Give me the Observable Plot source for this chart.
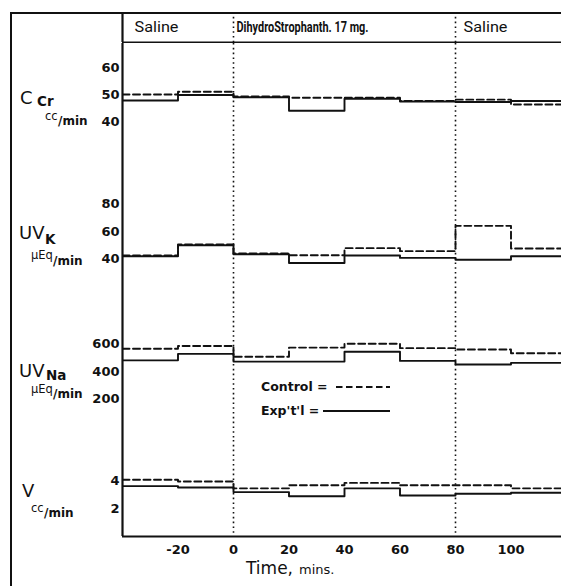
<!DOCTYPE html>
<html><head><meta charset="utf-8">
<script src="https://cdn.jsdelivr.net/npm/d3@7"></script>
<script src="https://cdn.jsdelivr.net/npm/@observablehq/plot@0.6"></script>
<style>
body{margin:0;background:#fff;}
#chart{position:relative;width:561px;height:586px;overflow:hidden;background:#fff;font-family:"DejaVu Sans",sans-serif;color:#111}
#chart svg.p{position:absolute;left:0;}
.frame{position:absolute;left:10px;top:12px;width:600px;height:620px;border-left:2.5px solid #111;border-top:2px solid #111;}
.t{position:absolute;white-space:nowrap;line-height:1;color:#111}
</style></head>
<body><div id="chart"><div class="frame"></div>
<div class="t" style="left:20px;top:89px;font-size:18px">C</div>
<div class="t" style="left:37px;top:95px;font-size:13.5px;font-weight:bold">Cr</div>
<div class="t" style="left:45px;top:111px;font-size:11.5px">cc</div>
<div class="t" style="left:58px;top:115px;font-size:12px;font-weight:bold">/min</div>

<div class="t" style="left:19px;top:224px;font-size:18px">UV</div>
<div class="t" style="left:45px;top:233px;font-size:13.5px;font-weight:bold">K</div>
<div class="t" style="left:31px;top:250px;font-size:11.5px">μEq</div>
<div class="t" style="left:53px;top:255px;font-size:12px;font-weight:bold">/min</div>

<div class="t" style="left:19px;top:362px;font-size:18px">UV</div>
<div class="t" style="left:46px;top:369px;font-size:13.5px;font-weight:bold">Na</div>
<div class="t" style="left:31px;top:384px;font-size:11.5px">μEq</div>
<div class="t" style="left:53px;top:388px;font-size:12px;font-weight:bold">/min</div>

<div class="t" style="left:22px;top:482px;font-size:18px">V</div>
<div class="t" style="left:31px;top:503px;font-size:11.5px">cc</div>
<div class="t" style="left:44px;top:507px;font-size:12px;font-weight:bold">/min</div>

<svg style="position:absolute;left:255px;top:375px" width="150" height="50">
  <text x="6" y="16" font-size="12.5" font-weight="bold" font-family="DejaVu Sans" fill="#111">Control =</text>
  <line x1="81" x2="135" y1="12" y2="12" stroke="#111" stroke-width="1.8" stroke-dasharray="6.5,3.5"/>
  <text x="6" y="40" font-size="12.5" font-weight="bold" font-family="DejaVu Sans" fill="#111">Exp't'l  =</text>
  <line x1="68" x2="135" y1="36" y2="36" stroke="#111" stroke-width="1.8"/>
</svg>
</div>
<script>
// ---- data ----
const periods = ["Saline", "DihydroStrophanth. 17 mg.", "Saline"];
const periodStarts = [-40, 0, 80];
const periodBounds = [0, 80];
const times = [-40, -20, 0, 20, 40, 60, 80, 100];
const endTime = 120;
const xTicks = [-20, 0, 20, 40, 60, 80, 100];

const ccrControl = [50, 51, 49.3, 48.8, 48.8, 47.6, 48.1, 46.3];
const ccrExp     = [47.8, 49.8, 49, 44, 48.4, 47.4, 47.2, 47.6];
const ccrTicks = [40, 50, 60];

const ukControl = [42.5, 50.5, 44, 42.7, 47.9, 45.7, 64.1, 47.6];
const ukExp     = [42, 50, 43.5, 37.1, 42.5, 40.8, 39.5, 42];
const ukTicks = [40, 60, 80];

const unaControl = [565, 586, 507, 574, 602, 570, 560, 533];
const unaExp     = [481, 528, 472, 472, 544, 477, 451, 463];
const unaTicks = [200, 400, 600];

const vControl = [4.05, 3.93, 3.44, 3.66, 3.83, 3.66, 3.66, 3.44];
const vExp     = [3.6, 3.5, 3.17, 2.88, 3.44, 2.93, 3.05, 3.12];
const vTicks = [2, 4];

// ---- layout ----
const W = 561, xLeft = 122, pxPerMin = 111 / 40;
const xMax = -40 + (W - xLeft) / pxPerMin;
const chart = document.getElementById("chart");
const INK = "#111";

function stepData(vals) {
  return times.map((t, i) => ({t, v: vals[i]})).concat([{t: endTime, v: vals[vals.length - 1]}]);
}
const baseStyle = {fontFamily: "DejaVu Sans", fontSize: "13px", fontWeight: "bold", background: "transparent", color: INK, overflow: "hidden"};

function place(svg, top) {
  svg.classList.add("p");
  svg.style.top = top + "px";
  chart.appendChild(svg);
}

// header
{
  const marks = [
    Plot.ruleX(periodBounds, {stroke: INK, strokeWidth: 1.6, strokeDasharray: "1.6,3.2"}),
    Plot.ruleX([-40], {stroke: INK, strokeWidth: 2.2}),
    Plot.ruleY([0], {stroke: INK, strokeWidth: 2})
  ];
  const dxs = [12, 3, 8];
  const weights = ["normal", "bold", "normal"];
  periods.forEach((p, i) => marks.push(Plot.text([p], {x: () => periodStarts[i], y: () => 0.5, text: d => d, textAnchor: "start", dx: dxs[i], fontSize: 14.5, fontWeight: weights[i], fontFamily: "Roboto", fill: INK})));
  const svg = Plot.plot({
    width: W, height: 31, marginLeft: xLeft, marginRight: 0, marginTop: 0, marginBottom: 1,
    x: {domain: [-40, xMax], axis: null},
    y: {domain: [0, 1], axis: null},
    style: baseStyle,
    marks
  });
  const widths = {"Saline": 44, "DihydroStrophanth. 17 mg.": 132};
  svg.querySelectorAll("text").forEach(el => {
    const w = widths[el.textContent];
    if (w) { el.setAttribute("textLength", w); el.setAttribute("lengthAdjust", "spacingAndGlyphs"); }
  });
  place(svg, 12);
}

function panel({top, height, marginBottom = 0, ref, refPx, ppu, ticks, control, exp, extra = []}) {
  const plotH = height - marginBottom;
  const yTop = ref + (refPx - top) / ppu;
  const yBot = ref - (top + plotH - refPx) / ppu;
  const svg = Plot.plot({
    width: W, height, marginLeft: xLeft, marginRight: 0, marginTop: 0, marginBottom,
    x: {domain: [-40, xMax], ticks: xTicks, tickSize: 0, tickPadding: 8, tickFormat: d => (d < 0 ? "-" + (-d) : String(d)), label: null, axis: marginBottom ? "bottom" : null},
    y: {domain: [yBot, yTop], ticks, tickSize: 0, tickPadding: 3, tickFormat: d => String(d), label: null},
    style: baseStyle,
    marks: [
      Plot.ruleX(periodBounds, {stroke: INK, strokeWidth: 1.6, strokeDasharray: "1.6,3.2"}),
      Plot.line(stepData(control), {x: "t", y: "v", curve: "step-after", stroke: INK, strokeWidth: 1.9, strokeDasharray: "7,3.5", clip: true}),
      Plot.line(stepData(exp), {x: "t", y: "v", curve: "step-after", stroke: INK, strokeWidth: 1.9, clip: true}),
      Plot.ruleX([-40], {stroke: INK, strokeWidth: 2.2}),
      ...extra
    ]
  });
  place(svg, top);
}

panel({top: 43, height: 109, ref: 50, refPx: 94, ppu: 2.7, ticks: ccrTicks, control: ccrControl, exp: ccrExp});
panel({top: 152, height: 140, ref: 40, refPx: 258.5, ppu: 1.375, ticks: ukTicks, control: ukControl, exp: ukExp});
panel({top: 292, height: 148, ref: 400, refPx: 371, ppu: 0.1375, ticks: unaTicks, control: unaControl, exp: unaExp});
panel({top: 440, height: 146, marginBottom: 50, ref: 0, refPx: 536, ppu: 14, ticks: vTicks, control: vControl, exp: vExp,
  extra: [
    Plot.ruleY([0], {stroke: INK, strokeWidth: 2}),
    Plot.text(["Time,"], {frameAnchor: "bottom", text: d => d, textAnchor: "end", dx: -49, dy: 37, fontSize: 17, fontWeight: "normal", fill: INK}),
    Plot.text(["mins."], {frameAnchor: "bottom", text: d => d, textAnchor: "start", dx: -43, dy: 37, fontSize: 13, fontWeight: "normal", fill: INK})
  ]});
</script>
</body></html>
